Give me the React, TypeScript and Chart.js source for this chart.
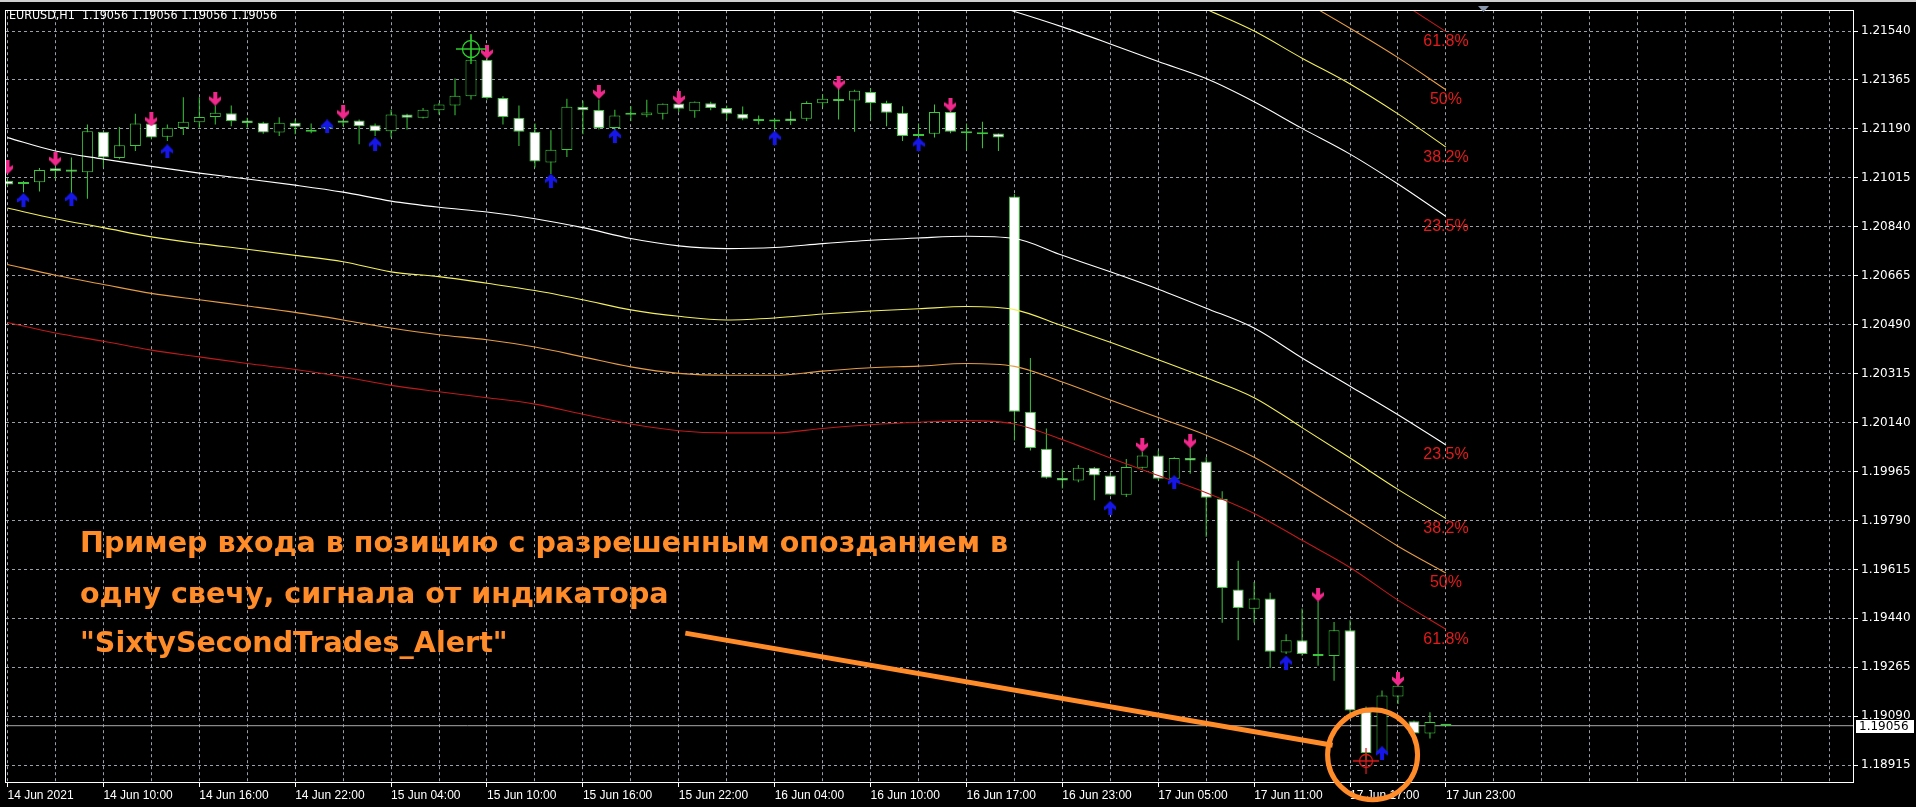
import React, { useEffect, useRef } from "react";
import { Chart, registerables } from "chart.js";

Chart.register(...registerables);

// ---------- DATA ----------
const headerText = "EURUSD,H1  1.19056 1.19056 1.19056 1.19056";

const timeLabels = [
  "14 Jun 2021", "14 Jun 10:00", "14 Jun 16:00", "14 Jun 22:00", "15 Jun 04:00",
  "15 Jun 10:00", "15 Jun 16:00", "15 Jun 22:00", "16 Jun 04:00", "16 Jun 10:00",
  "16 Jun 17:00", "16 Jun 23:00", "17 Jun 05:00", "17 Jun 11:00", "17 Jun 17:00",
  "17 Jun 23:00",
];
const timeLabelStep = 6;
const gridStep = 3;

const priceTickLabels = [
  "1.21540", "1.21365", "1.21190", "1.21015", "1.20840", "1.20665", "1.20490", "1.20315",
  "1.20140", "1.19965", "1.19790", "1.19615", "1.19440", "1.19265", "1.19090", "1.18915",
];

const opens = [
  1.21005, 1.20999, 1.20999, 1.21049, 1.21045, 1.21035, 1.21180, 1.21086, 1.21129, 1.21209,
  1.21162, 1.21193, 1.21214, 1.21233, 1.21246, 1.21220, 1.21212, 1.21177, 1.21212, 1.21187,
  1.21199, 1.21220, 1.21220, 1.21203, 1.21182, 1.21242, 1.21230, 1.21257, 1.21274, 1.21307,
  1.21437, 1.21301, 1.21230, 1.21180, 1.21070, 1.21115, 1.21269, 1.21258, 1.21193, 1.21242,
  1.21239, 1.21244, 1.21281, 1.21253, 1.21282, 1.21265, 1.21244, 1.21225, 1.21220, 1.21227,
  1.21226, 1.21282, 1.21297, 1.21292, 1.21322, 1.21283, 1.21248, 1.21171, 1.21173, 1.21251,
  1.21180, 1.21178, 1.21174, 1.20948, 1.20179, 1.20046, 1.19942, 1.19933, 1.19978, 1.19951,
  1.19882, 1.19978, 1.20022, 1.19939, 1.20013, 1.20001, 1.19868, 1.19543, 1.19474, 1.19511,
  1.19318, 1.19362, 1.19312, 1.19305, 1.19397, 1.19108, 1.18962, 1.19160, 1.19072, 1.19028,
  1.19056,
];
const highs = [
  1.21011, 1.21004, 1.21050, 1.21076, 1.21088, 1.21206, 1.21181, 1.21197, 1.21244, 1.21213,
  1.21206, 1.21303, 1.21303, 1.21274, 1.21274, 1.21230, 1.21216, 1.21232, 1.21224, 1.21209,
  1.21213, 1.21224, 1.21224, 1.21209, 1.21259, 1.21244, 1.21265, 1.21283, 1.21370, 1.21528,
  1.21444, 1.21307, 1.21274, 1.21209, 1.21185, 1.21298, 1.21291, 1.21295, 1.21259, 1.21271,
  1.21294, 1.21281, 1.21289, 1.21288, 1.21287, 1.21274, 1.21270, 1.21238, 1.21227, 1.21253,
  1.21289, 1.21313, 1.21336, 1.21330, 1.21336, 1.21291, 1.21271, 1.21209, 1.21277, 1.21256,
  1.21209, 1.21216, 1.21174, 1.20957, 1.20371, 1.20119, 1.19972, 1.19988, 1.19981, 1.19960,
  1.20010, 1.20036, 1.20040, 1.20016, 1.20058, 1.20016, 1.19894, 1.19646, 1.19570, 1.19531,
  1.19383, 1.19475, 1.19501, 1.19427, 1.19433, 1.19125, 1.19182, 1.19217, 1.19075, 1.19104,
  1.19056,
];
const lows = [
  1.20986, 1.20964, 1.20966, 1.21011, 1.20946, 1.20940, 1.21052, 1.21082, 1.21111, 1.21153,
  1.21147, 1.21168, 1.21194, 1.21206, 1.21200, 1.21194, 1.21173, 1.21165, 1.21171, 1.21175,
  1.21185, 1.21200, 1.21135, 1.21165, 1.21159, 1.21188, 1.21227, 1.21242, 1.21239, 1.21295,
  1.21295, 1.21206, 1.21129, 1.21052, 1.21029, 1.21090, 1.21171, 1.21188, 1.21185, 1.21218,
  1.21232, 1.21224, 1.21251, 1.21230, 1.21257, 1.21224, 1.21221, 1.21206, 1.21188, 1.21204,
  1.21218, 1.21268, 1.21224, 1.21180, 1.21221, 1.21200, 1.21147, 1.21159, 1.21159, 1.21175,
  1.21115, 1.21121, 1.21111, 1.20076, 1.20040, 1.19939, 1.19904, 1.19927, 1.19862, 1.19880,
  1.19874, 1.19975, 1.19934, 1.19933, 1.19957, 1.19732, 1.19424, 1.19362, 1.19424, 1.19262,
  1.19312, 1.19306, 1.19270, 1.19217, 1.19099, 1.18933, 1.18951, 1.19134, 1.19025, 1.19010,
  1.19056,
];
const closes = [
  1.20991, 1.20993, 1.21043, 1.21040, 1.21037, 1.21182, 1.21088, 1.21132, 1.21209, 1.21159,
  1.21194, 1.21216, 1.21233, 1.21248, 1.21218, 1.21211, 1.21177, 1.21212, 1.21198, 1.21180,
  1.21192, 1.21212, 1.21200, 1.21182, 1.21242, 1.21230, 1.21259, 1.21277, 1.21309, 1.21437,
  1.21301, 1.21233, 1.21180, 1.21074, 1.21116, 1.21269, 1.21257, 1.21193, 1.21238, 1.21241,
  1.21249, 1.21280, 1.21262, 1.21287, 1.21265, 1.21244, 1.21226, 1.21218, 1.21217, 1.21218,
  1.21283, 1.21298, 1.21289, 1.21327, 1.21283, 1.21248, 1.21165, 1.21165, 1.21251, 1.21180,
  1.21175, 1.21171, 1.21159, 1.20179, 1.20049, 1.19943, 1.19933, 1.19978, 1.19951, 1.19882,
  1.19981, 1.20022, 1.19939, 1.20013, 1.20004, 1.19871, 1.19548, 1.19477, 1.19511, 1.19320,
  1.19362, 1.19312, 1.19305, 1.19397, 1.19110, 1.18958, 1.19164, 1.19199, 1.19028, 1.19069,
  1.19056,
];

const sellIdx = [0, 3, 9, 13, 21, 30, 37, 42, 52, 59, 71, 74, 82, 87];
const sellPrice = [1.21053, 1.21082, 1.21224, 1.21298, 1.21249, 1.21466, 1.21322, 1.21301, 1.21356, 1.21277, 1.20060, 1.20073, 1.19525, 1.19223];
const buyIdx = [1, 4, 10, 20, 23, 34, 38, 48, 57, 69, 73, 80, 86];
const buyPrice = [1.20936, 1.20940, 1.21110, 1.21199, 1.21135, 1.21005, 1.21165, 1.21159, 1.21135, 1.19835, 1.19927, 1.19282, 1.18958];

const markIdx = [29, 85];
const markPrice = [1.21476, 1.18930];

const bandIdx = [0, 3, 6, 9, 12, 15, 18, 21, 24, 27, 30, 33, 36, 39, 42, 45, 48, 51, 54, 57, 60, 63, 66, 69, 72, 75, 78, 81, 84, 87, 90];
const lowerWhite = [1.21159, 1.21111, 1.21082, 1.21056, 1.21032, 1.21011, 1.20989, 1.20964, 1.20932, 1.20910, 1.20893, 1.20869, 1.20837, 1.20798, 1.20772, 1.20762, 1.20766, 1.20780, 1.20792, 1.20800, 1.20806, 1.20798, 1.20738, 1.20679, 1.20617, 1.20549, 1.20478, 1.20371, 1.20270, 1.20168, 1.20060];
const lowerYellow = [1.20907, 1.20869, 1.20837, 1.20804, 1.20780, 1.20760, 1.20738, 1.20715, 1.20679, 1.20662, 1.20638, 1.20612, 1.20579, 1.20543, 1.20520, 1.20507, 1.20514, 1.20528, 1.20539, 1.20547, 1.20555, 1.20544, 1.20486, 1.20427, 1.20365, 1.20300, 1.20229, 1.20122, 1.20013, 1.19901, 1.19797];
const lowerOrange = [1.20705, 1.20667, 1.20634, 1.20602, 1.20579, 1.20557, 1.20534, 1.20507, 1.20478, 1.20454, 1.20436, 1.20410, 1.20375, 1.20339, 1.20316, 1.20309, 1.20309, 1.20324, 1.20336, 1.20342, 1.20351, 1.20341, 1.20285, 1.20221, 1.20158, 1.20095, 1.20016, 1.19913, 1.19807, 1.19698, 1.19602];
const lowerRed = [1.20498, 1.20460, 1.20431, 1.20399, 1.20375, 1.20351, 1.20330, 1.20304, 1.20273, 1.20250, 1.20229, 1.20206, 1.20170, 1.20135, 1.20111, 1.20103, 1.20103, 1.20119, 1.20132, 1.20141, 1.20147, 1.20135, 1.20079, 1.20013, 1.19951, 1.19889, 1.19815, 1.19719, 1.19622, 1.19505, 1.19401];

const upperWhiteIdx = [60, 63, 66, 69, 72, 75, 78, 81, 84, 87, 90];
const upperWhite = [1.21661, 1.21610, 1.21555, 1.21494, 1.21431, 1.21370, 1.21287, 1.21192, 1.21100, 1.20993, 1.20877];
const upperYellowIdx = [72, 75, 78, 81, 84, 87, 90];
const upperYellow = [1.21696, 1.21618, 1.21540, 1.21443, 1.21351, 1.21244, 1.21125];
const upperOrangeIdx = [81, 84, 87, 90];
const upperOrange = [1.21650, 1.21550, 1.21445, 1.21330];
const upperRedIdx = [87, 90];
const upperRed = [1.21649, 1.21538];

const levelLabels = ["23.5%", "38.2%", "50%", "61.8%"];

const bidPrice = 1.19056;
const bidLabel = "1.19056";

const noteLines = [
  "Пример входа в позицию с разрешенным опозданием в",
  "одну свечу, сигнала от индикатора",
  "\"SixtySecondTrades_Alert\"",
];
// pointer line (bar index, price) -> ellipse around the entry candles
const pointerFrom = [42.41, 1.19387];
const pointerTo = [82.91, 1.18986];
const ringCenter = [85.41, 1.18952];

// ---------- helpers ----------
const GREEN = "#3cc83c";
const BAND_COLORS = ["#ffffff", "#f3ef5c", "#e59c45", "#bf1a1a"];

function makeArrow(color: string, down: boolean) {
  const c = document.createElement("canvas");
  c.width = 12;
  c.height = 14;
  const g = c.getContext("2d")!;
  const pts = [[6, 0], [12, 6], [12, 9.5], [8, 7], [8, 14], [4, 14], [4, 7], [0, 9.5], [0, 6]];
  g.fillStyle = color;
  g.beginPath();
  pts.forEach((p, k) => {
    const y = down ? 14 - p[1] : p[1];
    if (k === 0) g.moveTo(p[0], y);
    else g.lineTo(p[0], y);
  });
  g.closePath();
  g.fill();
  return c;
}

function makeCross(color: string, size: number, r: number) {
  const c = document.createElement("canvas");
  c.width = size;
  c.height = size;
  const g = c.getContext("2d")!;
  const m = size / 2;
  g.strokeStyle = color;
  g.lineWidth = 1.3;
  g.beginPath();
  g.arc(m, m, r, 0, Math.PI * 2);
  g.stroke();
  g.beginPath();
  g.moveTo(0, m);
  g.lineTo(size, m);
  g.moveTo(m, 0);
  g.lineTo(m, size);
  g.stroke();
  return c;
}

function bandDataset(idx: number[], vals: number[], color: string, label: string) {
  return {
    type: "line",
    data: idx.map((x, k) => ({ x, y: vals[k] })),
    borderColor: color,
    borderWidth: 1.1,
    pointRadius: 0,
    cubicInterpolationMode: "monotone",
    fill: false,
    order: 2,
    endLabel: label,
  };
}

function pickFamily(candidates: string[], size: number, sample: string, target: number) {
  const c = document.createElement("canvas");
  const g = c.getContext("2d")!;
  let best = candidates[candidates.length - 1];
  let bestErr = Infinity;
  candidates.forEach((fam) => {
    g.font = size + "px " + fam;
    const err = Math.abs(g.measureText(sample).width - target);
    if (err < bestErr) {
      bestErr = err;
      best = fam;
    }
  });
  return best;
}

export default function App() {
  const ref = useRef<HTMLCanvasElement>(null);

  useEffect(() => {
    document.body.style.margin = "0";
    document.body.style.background = "#000";
    const canvas = ref.current;
    if (!canvas) return;

    const upArrow = makeArrow("#1616e8", false);
    const downArrow = makeArrow("#f0288c", true);
    const greenCross = makeCross("#2ccd2c", 30, 8.5);
    const redCross = makeCross("#d81c1c", 26, 6.5);

    const timeFamily = pickFamily(
      ['"DejaVu Sans Condensed"', '"Liberation Sans Narrow"', '"DejaVu Sans"', '"Liberation Sans"'],
      12,
      "14 Jun 2021",
      67
    );

    const idx = opens.map((_, i) => i);
    const yTickValues = priceTickLabels.map((s) => parseFloat(s));
    const xGrid: number[] = [];
    for (let v = 0; v <= 114; v += gridStep) xGrid.push(v);

    const fitText = (ctx: CanvasRenderingContext2D, text: string, x: number, y: number, width: number, font: string, color: string) => {
      ctx.save();
      ctx.font = font;
      ctx.fillStyle = color;
      ctx.textBaseline = "alphabetic";
      ctx.textAlign = "left";
      const w = ctx.measureText(text).width;
      ctx.translate(x, y);
      ctx.scale(width / w, 1);
      ctx.fillText(text, 0, 0);
      ctx.restore();
    };

    const overlay = {
      id: "mt4Overlay",
      beforeDraw(chart: any) {
        const { ctx, width, height } = chart;
        ctx.save();
        ctx.fillStyle = "#000";
        ctx.fillRect(0, 0, width, height);
        ctx.fillStyle = "#cfcfcf";
        ctx.fillRect(0, 0, width, 2);
        ctx.restore();
      },
      afterDatasetsDraw(chart: any) {
        const ctx = chart.ctx;
        ctx.save();
        ctx.font = '16px "Liberation Sans", Arial, sans-serif';
        ctx.fillStyle = "#e41b1b";
        ctx.textAlign = "center";
        ctx.textBaseline = "middle";
        chart.data.datasets.forEach((ds: any, di: number) => {
          if (!ds.endLabel) return;
          const meta = chart.getDatasetMeta(di);
          const last = meta.data[meta.data.length - 1];
          if (!last) return;
          ctx.fillText(ds.endLabel, last.x, last.y + 10);
        });
        ctx.restore();
      },
      afterDraw(chart: any) {
        const ctx = chart.ctx;
        const ca = chart.chartArea;
        const xs = chart.scales.x;
        const ys = chart.scales.y;
        ctx.save();
        // frame
        ctx.strokeStyle = "#ffffff";
        ctx.lineWidth = 1;
        ctx.strokeRect(Math.round(ca.left) - 0.5, Math.round(ca.top) + 0.5, Math.round(ca.right - ca.left), Math.round(ca.bottom - ca.top) - 1);
        // shift marker
        ctx.fillStyle = "#8795a8";
        ctx.beginPath();
        ctx.moveTo(1478, 6);
        ctx.lineTo(1489, 6);
        ctx.lineTo(1483.5, 12);
        ctx.closePath();
        ctx.fill();
        // bid price box
        const by = ys.getPixelForValue(bidPrice);
        ctx.fillStyle = "#ffffff";
        ctx.fillRect(ca.right + 2, Math.round(by) - 6, 58, 13);
        ctx.fillStyle = "#000000";
        ctx.font = '12px "DejaVu Sans", sans-serif';
        ctx.textBaseline = "middle";
        ctx.textAlign = "left";
        ctx.fillText(bidLabel, ca.right + 5, Math.round(by) + 0.5);
        // header
        fitText(ctx, headerText, 9, 19, 268, '12px "DejaVu Sans", sans-serif', "#ffffff");
        // note text
        const noteFont = 'bold 29px "DejaVu Sans", sans-serif';
        ctx.font = noteFont;
        const k = 928 / ctx.measureText(noteLines[0]).width;
        const baselines = [544, 595, 644];
        noteLines.forEach((t, i) => {
          ctx.save();
          ctx.font = noteFont;
          ctx.fillStyle = "#ff8c28";
          ctx.translate(80, baselines[i]);
          ctx.scale(k, 1);
          ctx.fillText(t, 0, 0);
          ctx.restore();
        });
        // pointer line and ring
        ctx.strokeStyle = "#ff8c28";
        ctx.lineWidth = 5;
        ctx.beginPath();
        ctx.moveTo(xs.getPixelForValue(pointerFrom[0]), ys.getPixelForValue(pointerFrom[1]));
        ctx.lineTo(xs.getPixelForValue(pointerTo[0]), ys.getPixelForValue(pointerTo[1]));
        ctx.stroke();
        ctx.beginPath();
        ctx.ellipse(xs.getPixelForValue(ringCenter[0]), ys.getPixelForValue(ringCenter[1]), 45, 45, 0, 0, Math.PI * 2);
        ctx.stroke();
        ctx.restore();
      },
    };

    const datasets: any[] = [
      {
        type: "line",
        data: markIdx.map((x, k) => ({ x, y: markPrice[k] })),
        showLine: false,
        pointStyle: [greenCross, redCross],
        pointRadius: 6,
        borderWidth: 0,
        order: 0,
      },
      {
        type: "line",
        data: sellIdx.map((x, k) => ({ x, y: sellPrice[k] })),
        showLine: false,
        pointStyle: downArrow,
        pointRadius: 6,
        borderWidth: 0,
        order: 1,
      },
      {
        type: "line",
        data: buyIdx.map((x, k) => ({ x, y: buyPrice[k] })),
        showLine: false,
        pointStyle: upArrow,
        pointRadius: 6,
        borderWidth: 0,
        order: 1,
      },
      bandDataset(upperRedIdx, upperRed, BAND_COLORS[3], levelLabels[3]),
      bandDataset(upperOrangeIdx, upperOrange, BAND_COLORS[2], levelLabels[2]),
      bandDataset(upperYellowIdx, upperYellow, BAND_COLORS[1], levelLabels[1]),
      bandDataset(upperWhiteIdx, upperWhite, BAND_COLORS[0], levelLabels[0]),
      bandDataset(bandIdx, lowerWhite, BAND_COLORS[0], levelLabels[0]),
      bandDataset(bandIdx, lowerYellow, BAND_COLORS[1], levelLabels[1]),
      bandDataset(bandIdx, lowerOrange, BAND_COLORS[2], levelLabels[2]),
      bandDataset(bandIdx, lowerRed, BAND_COLORS[3], levelLabels[3]),
      {
        type: "bar",
        data: idx.map((i) => ({ x: i, y: [opens[i], closes[i]] })),
        backgroundColor: idx.map((i) => (closes[i] < opens[i] ? "#ffffff" : "#000000")),
        borderColor: GREEN,
        borderWidth: 1,
        borderSkipped: false,
        inflateAmount: 0,
        barThickness: 11,
        minBarLength: 2,
        grouped: false,
        order: 3,
      },
      {
        type: "bar",
        data: idx.map((i) => ({ x: i, y: [lows[i], highs[i]] })),
        backgroundColor: GREEN,
        borderWidth: 0,
        inflateAmount: 0,
        barThickness: 1,
        grouped: false,
        order: 4,
      },
      {
        type: "line",
        data: [{ x: -2, y: bidPrice }, { x: 120, y: bidPrice }],
        borderColor: "#a9a9a9",
        borderWidth: 1,
        pointRadius: 0,
        order: 5,
      },
    ];

    const chart = new Chart(canvas, {
      type: "bar",
      data: { datasets },
      options: {
        responsive: false,
        devicePixelRatio: 1,
        animation: false,
        events: [],
        layout: { padding: { left: 4, top: 5, right: 0, bottom: 0 } },
        plugins: { legend: { display: false }, tooltip: { enabled: false } },
        scales: {
          x: {
            type: "linear",
            position: "bottom",
            min: -1.5 / 16,
            max: -1.5 / 16 + 1850 / 16,
            offset: false,
            afterBuildTicks: (s: any) => {
              s.ticks = xGrid.map((v) => ({ value: v }));
            },
            afterFit: (s: any) => {
              s.height = 24;
            },
            grid: {
              offset: false,
              color: "#9aa0a8",
              lineWidth: 1,
              drawTicks: true,
              tickLength: 4,
              tickColor: (c: any) =>
                c.tick && c.tick.value % timeLabelStep === 0 && c.tick.value / timeLabelStep < timeLabels.length
                  ? "#ffffff"
                  : "rgba(0,0,0,0)",
            },
            border: { display: false, dash: [3, 3] },
            ticks: {
              autoSkip: false,
              maxRotation: 0,
              minRotation: 0,
              align: "start",
              padding: 1,
              color: "#ffffff",
              font: { family: timeFamily, size: 12 },
              callback: (v: any) => {
                const n = Number(v);
                if (n % timeLabelStep !== 0) return "";
                return timeLabels[n / timeLabelStep] || "";
              },
            },
          },
          y: {
            type: "linear",
            position: "right",
            min: 1.188511,
            max: 1.216146,
            beginAtZero: false,
            afterBuildTicks: (s: any) => {
              s.ticks = yTickValues.map((v) => ({ value: v }));
            },
            afterFit: (s: any) => {
              s.width = 62;
            },
            grid: {
              color: "#9aa0a8",
              lineWidth: 1,
              drawTicks: true,
              tickLength: 4,
              tickColor: "#ffffff",
            },
            border: { display: false, dash: [3, 3] },
            ticks: {
              padding: 3,
              color: "#ffffff",
              font: { family: '"DejaVu Sans", sans-serif', size: 12 },
              callback: (_v: any, i: number) => priceTickLabels[i],
            },
          },
        },
      } as any,
      plugins: [overlay],
    } as any);

    return () => chart.destroy();
  }, []);

  return (
    <canvas
      ref={ref}
      width={1916}
      height={807}
      style={{ display: "block", position: "fixed", left: 0, top: 0, width: 1916, height: 807, background: "#000" }}
    />
  );
}
